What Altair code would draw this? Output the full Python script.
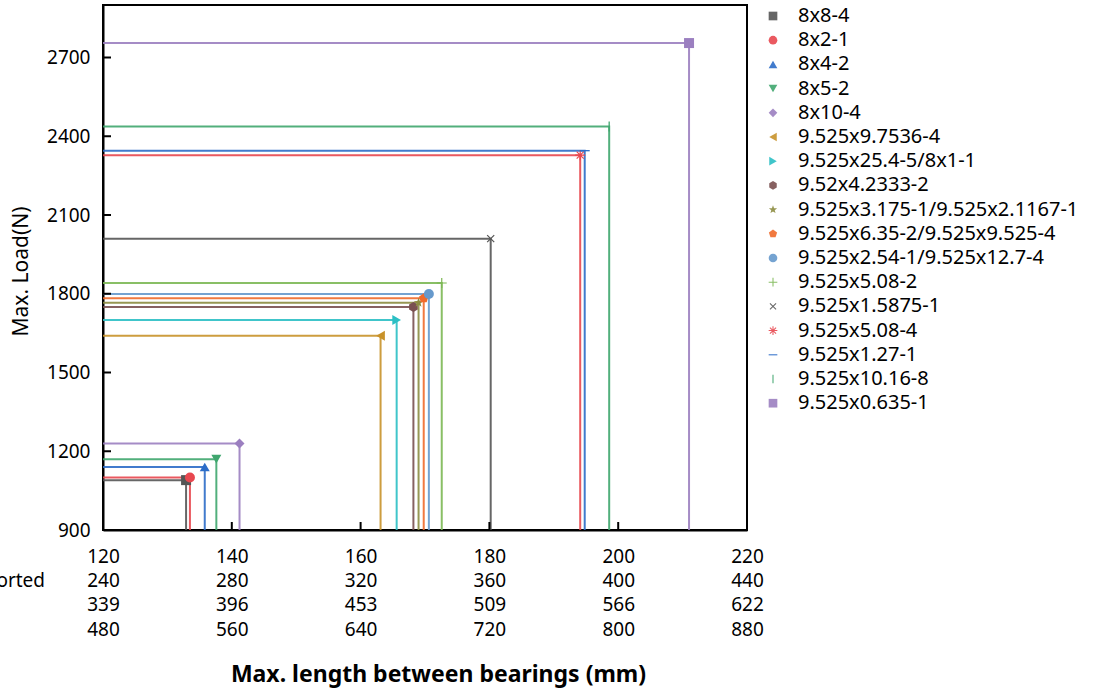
import math
import altair as alt
import pandas as pd

# ---- data -----------------------------------------------------------------
series_names = [
    "8x8-4", "8x2-1", "8x4-2", "8x5-2", "8x10-4",
    "9.525x9.7536-4", "9.525x25.4-5/8x1-1", "9.52x4.2333-2",
    "9.525x3.175-1/9.525x2.1167-1", "9.525x6.35-2/9.525x9.525-4",
    "9.525x2.54-1/9.525x12.7-4", "9.525x5.08-2", "9.525x1.5875-1",
    "9.525x5.08-4", "9.525x1.27-1", "9.525x10.16-8", "9.525x0.635-1",
]
max_length = [132.9, 133.5, 135.8, 137.6, 141.2, 163.1, 165.6, 168.2, 169.0,
              169.8, 170.6, 172.6, 180.2, 194.1, 194.8, 198.6, 211.0]
max_load = [1090, 1100, 1140, 1170, 1230, 1640, 1700, 1750, 1766, 1783, 1799,
            1841, 2010, 2328, 2345, 2437, 2755]
series_colors = ["#555555", "#E8474F", "#2C6DC8", "#3FA66E", "#9B7FC0",
                 "#C8922A", "#2BBFC4", "#7A5050", "#8C8C40", "#F06A2A",
                 "#6699CC", "#7CB854", "#555555", "#E8474F", "#2C6DC8",
                 "#3FA66E", "#9B7FC0"]

# axis ranges and tick labels (four label rows under each x tick)
x_min, x_max = 120, 220
y_min, y_max = 900, 2900
x_ticks = [120, 140, 160, 180, 200, 220]
y_ticks = [900, 1200, 1500, 1800, 2100, 2400, 2700]
x_row1 = ["120", "140", "160", "180", "200", "220"]
x_row2 = ["240", "280", "320", "360", "400", "440"]
x_row3 = ["339", "396", "453", "509", "566", "622"]
x_row4 = ["480", "560", "640", "720", "800", "880"]
row_caption = "Supported"

# ---- marker shapes (unit-box SVG paths) ------------------------------------
def poly(points):
    return "M" + "L".join(f"{px:.3f},{py:.3f}" for px, py in points) + "Z"

def star(n=5, r_out=1.0, r_in=0.42):
    pts = []
    for k in range(2 * n):
        r = r_out if k % 2 == 0 else r_in
        a = math.radians(-90 + k * 180 / n)
        pts.append((r * math.cos(a), r * math.sin(a)))
    return poly(pts)

def regular(n, r=1.0, start=-90):
    return poly([(r * math.cos(math.radians(start + k * 360 / n)),
                  r * math.sin(math.radians(start + k * 360 / n))) for k in range(n)])

def bar(angle, w=0.12):
    a = math.radians(angle)
    c, s = math.cos(a), math.sin(a)
    pts = [(-1, -w), (1, -w), (1, w), (-1, w)]
    return poly([(px * c - py * s, px * s + py * c) for px, py in pts])

plus_path = bar(0) + bar(90)
cross_path = bar(45) + bar(135)
aster_path = bar(0) + bar(90) + bar(45) + bar(135)
dash_path = bar(0, 0.13)
vtick_path = bar(90, 0.13)

series_shapes = [
    "square", "circle", "triangle-up", "triangle-down", "diamond",
    "triangle-left", "triangle-right", regular(6), star(), regular(5),
    "circle", plus_path, cross_path, aster_path, dash_path, vtick_path, "square",
]

# ---- tables ----------------------------------------------------------------
points = pd.DataFrame({"name": series_names, "len": max_length,
                       "load": max_load, "color": series_colors})

line_rows = []
for n, xv, yv, c in zip(series_names, max_length, max_load, series_colors):
    line_rows.append({"name": n, "step": 0, "len": x_min, "load": yv, "color": c})
    line_rows.append({"name": n, "step": 1, "len": xv, "load": yv, "color": c})
    line_rows.append({"name": n, "step": 2, "len": xv, "load": y_min, "color": c})
lines_df = pd.DataFrame(line_rows)

label_expr = ("[" + ",".join(
    "[" + ",".join(f"'{r}'" for r in rows) + "]"
    for rows in zip(x_row1, x_row2, x_row3, x_row4)
) + "][indexof([" + ",".join(str(t) for t in x_ticks) + "], datum.value)]")

FONT = "Noto Sans"
W, H = 644, 525

x_scale = alt.Scale(domain=[x_min, x_max], nice=False, zero=False)
y_scale = alt.Scale(domain=[y_min, y_max], nice=False, zero=False)

x_axis = alt.Axis(
    values=x_ticks, ticks=False, labelExpr=label_expr,
    labelFontSize=19, labelLineHeight=24.4, labelPadding=17,
    labelBaseline="top", labelFlush=False,
    title="Max. length between bearings (mm)", titleFontSize=23,
    titleFontWeight="bold", titleX=335, titleY=133)
y_axis = alt.Axis(
    values=y_ticks, ticks=False, format="d", labelFontSize=19, labelPadding=13,
    labelFlush=False, title="Max. Load(N)", titleFontSize=21,
    titleFontWeight="normal", titleX=-72, titleY=266)

lines = alt.Chart(lines_df).mark_line(strokeWidth=2, opacity=0.9).encode(
    x=alt.X("len:Q", scale=x_scale, axis=x_axis),
    y=alt.Y("load:Q", scale=y_scale, axis=y_axis),
    detail="name:N",
    order="step:Q",
    color=alt.Color("color:N", scale=None),
)

legend = alt.Legend(title=None, orient="none", legendX=660, legendY=1,
                    labelFontSize=20, labelFont=FONT, labelColor="black",
                    symbolSize=75, rowPadding=4.2, labelOffset=15,
                    labelLimit=400, symbolStrokeWidth=0)

markers = alt.Chart(points).mark_point(filled=True, size=100, opacity=1).encode(
    x=alt.X("len:Q", scale=x_scale, axis=x_axis),
    y=alt.Y("load:Q", scale=y_scale, axis=y_axis),
    color=alt.Color("name:N", scale=alt.Scale(domain=series_names, range=series_colors),
                    legend=legend),
    shape=alt.Shape("name:N", scale=alt.Scale(domain=series_names, range=series_shapes),
                    legend=legend),
)

x_tick_marks = alt.Chart(pd.DataFrame({"len": x_ticks})).mark_rule(
    color="black", strokeWidth=2).encode(
    x=alt.X("len:Q", scale=x_scale, axis=x_axis), y=alt.value(H), y2=alt.value(H - 8))

y_tick_marks = alt.Chart(pd.DataFrame({"load": y_ticks})).mark_rule(
    color="black", strokeWidth=2).encode(
    y=alt.Y("load:Q", scale=y_scale, axis=y_axis), x=alt.value(0), x2=alt.value(8))

caption = alt.Chart(pd.DataFrame({"t": [row_caption]})).mark_text(
    align="right", baseline="middle", fontSize=19, font=FONT, color="black").encode(
    text="t:N", x=alt.value(-58), y=alt.value(H + 51))

chart = alt.layer(lines, markers, x_tick_marks, y_tick_marks, caption).properties(
    width=W, height=H,
    autosize=alt.AutoSizeParams(type="none"),
    padding={"left": 103, "top": 5, "right": 1096 - 103 - W, "bottom": 691 - 5 - H},
).configure(font=FONT).configure_view(
    stroke="black", strokeWidth=2
).configure_axis(
    domainColor="black", domainWidth=2, grid=False,
    labelColor="black", titleColor="black", labelFont=FONT, titleFont=FONT,
)

chart.save("out.html", embed_options={"renderer": "svg", "actions": False})
